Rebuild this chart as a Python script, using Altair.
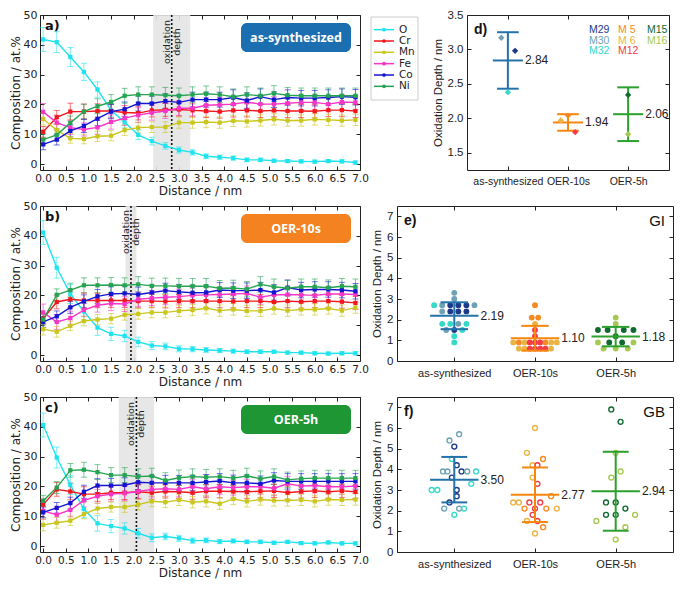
import altair as alt
import pandas as pd

# ---------------- composition profiles (panels a-c) ----------------
dist = [0.0, 0.3, 0.6, 0.9, 1.2, 1.5, 1.8, 2.1, 2.4, 2.7, 3.0, 3.3,
        3.6, 3.9, 4.2, 4.5, 4.8, 5.1, 5.4, 5.7, 6.0, 6.3, 6.6, 6.9]
elements = ["O", "Cr", "Mn", "Fe", "Co", "Ni"]
element_colors = ["#1fe3ee", "#f2171d", "#c9c71e", "#f735c6", "#1414d2", "#25a552"]

err_O = [4.0, 3.5, 3.2, 2.9, 2.6, 2.2, 1.9, 1.6, 1.3, 1.1, 1.0, 0.9,
         0.8, 0.7, 0.7, 0.6, 0.6, 0.5, 0.5, 0.5, 0.5, 0.5, 0.5, 0.5]
err_Cr = [1.8, 2.3, 2.8, 2.5, 2.4, 2.3, 2.3, 2.3, 2.2, 2.2, 2.2, 2.2,
          2.2, 2.2, 2.2, 2.2, 2.2, 2.2, 2.2, 2.2, 2.2, 2.2, 2.2, 2.2]
err_Mn = [2.0, 1.8, 1.6, 1.6, 1.7, 1.7, 1.8, 1.8, 1.8, 1.8, 1.9, 1.9,
          1.9, 1.9, 1.9, 1.9, 1.9, 1.9, 1.9, 1.9, 1.9, 1.9, 1.9, 1.9]
err_Fe = [2.8, 2.5, 2.3, 2.2, 2.3, 2.4, 2.5, 2.5, 2.5, 2.5, 2.5, 2.5,
          2.5, 2.5, 2.5, 2.5, 2.5, 2.5, 2.5, 2.5, 2.5, 2.5, 2.5, 2.5]
err_Co = [1.8, 1.8, 2.0, 2.2, 2.3, 2.4, 2.4, 2.5, 2.5, 2.5, 2.5, 2.5,
          2.5, 2.5, 2.6, 2.6, 2.6, 2.6, 2.6, 2.6, 2.6, 2.6, 2.6, 2.6]
err_Ni = [1.8, 2.0, 2.3, 2.5, 2.5, 2.5, 2.5, 2.6, 2.6, 2.6, 2.6, 2.6,
          2.6, 2.6, 2.6, 2.6, 2.6, 2.6, 2.6, 2.6, 2.6, 2.6, 2.6, 2.6]
errors = [err_O, err_Cr, err_Mn, err_Fe, err_Co, err_Ni]

a_O = [41.8, 40.9, 35.9, 30.9, 25.0, 18.0, 14.0, 9.8, 7.7, 6.1, 4.7, 3.9,
       2.6, 2.3, 2.0, 1.4, 1.4, 1.1, 1.0, 0.9, 0.8, 1.0, 0.9, 0.5]
a_Cr = [10.8, 15.7, 17.6, 17.6, 17.8, 17.8, 17.3, 17.1, 18.0, 18.2, 18.3, 18.0,
        17.8, 17.6, 18.0, 18.0, 17.8, 18.0, 17.8, 17.8, 17.7, 18.1, 18.1, 17.8]
a_Mn = [15.1, 11.4, 8.6, 8.4, 9.3, 9.5, 11.4, 12.2, 12.4, 12.4, 13.9, 13.9,
        14.1, 13.9, 14.5, 14.3, 14.6, 15.0, 14.6, 14.6, 15.0, 14.8, 14.6, 14.8]
a_Fe = [17.5, 13.9, 12.2, 11.6, 12.3, 14.1, 15.4, 16.4, 17.2, 17.8, 18.7, 18.7,
        19.7, 19.9, 20.1, 20.8, 20.1, 20.1, 20.4, 20.7, 20.7, 20.1, 20.8, 20.7]
a_Co = [6.6, 8.2, 11.1, 12.8, 15.2, 17.6, 18.4, 20.3, 20.3, 21.1, 20.7, 21.6,
        21.6, 21.6, 22.3, 21.3, 22.6, 21.6, 22.3, 22.1, 22.1, 22.3, 22.6, 22.4]
a_Ni = [8.2, 9.8, 13.8, 17.6, 19.4, 20.8, 22.9, 23.3, 23.3, 23.1, 22.9, 23.3,
        23.6, 23.3, 22.6, 23.3, 22.9, 23.7, 23.1, 22.9, 22.9, 22.9, 22.9, 22.9]

b_O = [41.1, 29.3, 20.5, 14.6, 9.2, 7.1, 6.4, 4.4, 3.2, 2.9, 2.1, 2.0,
       1.7, 1.5, 1.3, 1.1, 1.1, 1.1, 0.8, 0.8, 0.6, 0.5, 0.6, 0.6]
b_Cr = [12.2, 17.8, 18.7, 18.3, 18.3, 18.3, 18.3, 18.1, 18.1, 18.0, 18.1, 18.1,
        18.1, 18.1, 18.0, 18.1, 18.1, 17.8, 18.1, 17.9, 18.1, 18.1, 17.9, 17.5]
b_Mn = [8.7, 7.8, 9.8, 11.4, 11.9, 12.2, 13.5, 13.8, 14.3, 14.3, 14.8, 15.1,
        15.7, 14.9, 15.3, 14.8, 14.8, 15.6, 14.9, 15.3, 15.3, 15.6, 14.9, 15.9]
b_Fe = [14.3, 11.1, 12.4, 15.1, 16.7, 17.3, 17.1, 18.7, 19.1, 19.4, 19.6, 20.0,
        20.2, 20.3, 20.5, 20.7, 19.4, 20.2, 20.3, 20.2, 20.0, 20.5, 20.5, 20.3]
b_Co = [11.1, 13.0, 16.0, 18.0, 19.7, 20.5, 20.7, 20.3, 21.0, 21.6, 21.2, 20.9,
        21.0, 21.8, 21.6, 21.6, 21.8, 21.0, 22.6, 21.8, 22.0, 22.0, 21.8, 21.4]
b_Ni = [11.9, 20.2, 21.8, 23.4, 23.4, 23.5, 23.4, 23.7, 23.2, 23.2, 23.1, 23.1,
        23.1, 22.4, 22.5, 22.1, 23.7, 22.9, 22.4, 22.9, 22.9, 22.6, 23.1, 22.9]

c_O = [40.6, 29.7, 20.5, 12.4, 7.6, 6.7, 5.9, 4.3, 2.8, 3.2, 2.6, 1.8,
       1.9, 1.5, 1.7, 1.4, 1.4, 1.1, 1.4, 1.0, 0.9, 1.2, 0.9, 0.9]
c_Cr = [13.9, 19.0, 18.3, 17.4, 17.4, 17.9, 17.9, 18.2, 17.9, 18.3, 18.2, 17.9,
        18.4, 18.4, 18.3, 18.2, 18.4, 18.5, 17.9, 18.3, 18.5, 18.2, 18.5, 18.2]
c_Mn = [7.1, 7.8, 8.5, 10.7, 12.6, 13.1, 13.1, 13.9, 15.0, 14.7, 15.5, 14.7,
        15.0, 14.2, 15.8, 15.0, 15.6, 15.3, 15.3, 15.5, 15.0, 15.6, 15.5, 15.6]
c_Fe = [11.8, 10.5, 12.1, 15.3, 16.7, 17.4, 17.7, 18.3, 19.0, 19.2, 19.0, 19.9,
        19.2, 19.9, 19.6, 19.9, 19.9, 19.4, 20.9, 20.1, 20.3, 19.9, 19.9, 20.1]
c_Co = [11.3, 12.8, 14.4, 18.2, 20.3, 20.3, 20.5, 21.4, 21.2, 21.2, 21.2, 21.2,
        21.5, 21.8, 21.2, 21.2, 20.9, 22.0, 21.7, 21.7, 21.7, 21.7, 21.7, 21.7]
c_Ni = [15.2, 19.6, 25.4, 25.6, 24.8, 23.8, 23.8, 23.3, 23.5, 22.0, 22.9, 23.3,
        23.1, 23.3, 22.8, 23.5, 22.6, 23.3, 22.2, 22.6, 22.8, 22.8, 22.8, 22.8]

x_ticks = [0.0, 0.5, 1.0, 1.5, 2.0, 2.5, 3.0, 3.5, 4.0, 4.5, 5.0, 5.5, 6.0, 6.5, 7.0]
y_ticks_comp = [0, 10, 20, 30, 40, 50]

# ---------------- oxidation depth (panels d-f) ----------------
groups = ["as-synthesized", "OER-10s", "OER-5h"]
group_colors = ["#2472aa", "#f7860f", "#2ca02c"]
samples = ["M29", "M30", "M32", "M5", "M6", "M12", "M15", "M16"]
sample_labels = ["M29", "M30", "M32", "M  5", "M  6", "M12", "M15", "M16"]
sample_colors = ["#1d3a8a", "#6ea2b4", "#34d9c8", "#f58a24", "#eab445",
                 "#f23b47", "#0e6a30", "#a5c952"]

d_mean = [2.84, 1.94, 2.06]
d_sd = [0.41, 0.12, 0.39]
d_grp = [1, 1, 1, 2, 2, 2, 3, 3]
d_smp = ["M30", "M29", "M32", "M6", "M5", "M12", "M15", "M16"]
d_off = [-0.11, 0.12, 0.0, -0.12, 0.0, 0.12, 0.0, 0.0]
d_val = [3.17, 2.98, 2.38, 1.97, 2.04, 1.80, 2.34, 1.77]

e_mean = [2.19, 1.10, 1.18]
e_sd = [0.65, 0.60, 0.47]
e_grp = [1] * 21 + [2] * 22 + [3] * 14
e_smp = ["M30", "M30", "M32", "M30", "M29", "M29", "M29", "M30", "M30", "M29", "M29",
         "M29", "M32", "M32", "M30", "M32", "M30", "M29", "M32", "M32", "M32",
         "M5", "M5", "M5", "M6", "M12", "M12", "M6", "M5", "M6", "M12", "M12",
         "M12", "M5", "M6", "M6", "M6", "M6", "M12", "M12", "M12", "M12", "M6",
         "M16", "M16", "M15", "M15", "M15", "M15", "M15", "M16", "M15", "M15",
         "M16", "M16", "M16", "M16"]
e_off = [0, 0, -0.25, -0.15, -0.05, 0.05, 0.15, 0.25, -0.15, -0.05, 0.05, 0.15,
         -0.15, -0.05, 0.05, 0.15, -0.1, 0, 0.1, 0, 0,
         0, -0.04, 0.04, 0, 0, 0, -0.27, -0.2, -0.13, -0.065, 0, 0.065, 0.13, 0.2,
         0.27, -0.2, -0.13, -0.065, 0, 0.065, 0.13, 0.2,
         0, 0, -0.22, -0.1, 0.1, 0.22, 0, -0.22, -0.08, 0.08, 0.22, -0.15, 0, 0.15]
e_val = [3.3, 3.0, 2.7, 2.7, 2.7, 2.7, 2.7, 2.7, 2.4, 2.4, 2.4, 2.4,
         1.8, 1.8, 1.8, 1.8, 1.5, 1.5, 1.5, 1.2, 0.9,
         2.7, 2.1, 2.1, 1.8, 1.5, 1.2, 0.9, 0.9, 0.9, 0.9, 0.9, 0.9, 0.9, 0.9,
         0.9, 0.6, 0.6, 0.6, 0.6, 0.6, 0.6, 0.6,
         2.1, 1.8, 1.5, 1.5, 1.5, 1.5, 1.2, 0.9, 0.9, 0.9, 0.9, 0.6, 0.6, 0.6]

f_mean = [3.50, 2.77, 2.94]
f_sd = [1.10, 1.32, 1.91]
f_grp = [1] * 21 + [2] * 21 + [3] * 14
f_smp = ["M30", "M30", "M29", "M32", "M29", "M30", "M30", "M29", "M30", "M32", "M29",
         "M32", "M32", "M32", "M29", "M29", "M29", "M30", "M30", "M32", "M32",
         "M6", "M6", "M5", "M6", "M12", "M6", "M12", "M5", "M6", "M6", "M12", "M12",
         "M5", "M12", "M5", "M6", "M12", "M6", "M12", "M5", "M6",
         "M15", "M15", "M16", "M16", "M16", "M15", "M15", "M15", "M15", "M15", "M16",
         "M16", "M16", "M16"]
f_off = [0.06, -0.06, 0, -0.03, 0.03, -0.14, -0.085, 0.09, 0.16, 0.27, -0.03,
         0.21, -0.28, -0.21, 0.03, 0.03, -0.06, -0.125, 0.06, 0.12, 0,
         0, -0.1, 0.1, -0.03, 0.03, -0.03, 0.03, 0.2, -0.27, -0.2, -0.07, 0.065,
         -0.13, 0, 0.14, 0.27, -0.03, -0.1, 0.03, 0.1, 0,
         -0.055, 0.06, 0, 0.06, -0.055, -0.12, 0, 0.12, -0.12, 0, 0.24, -0.24, 0.12, 0]
f_val = [5.7, 5.4, 5.1, 4.5, 4.2, 3.9, 3.9, 3.9, 3.9, 3.9, 3.6,
         3.3, 3.0, 3.0, 3.0, 2.7, 2.4, 2.1, 2.1, 2.1, 1.8,
         6.0, 4.8, 4.5, 4.2, 4.2, 3.6, 3.3, 2.7, 2.4, 2.4, 2.4, 2.4,
         2.1, 2.1, 2.1, 2.1, 1.8, 1.5, 1.5, 1.2, 0.9,
         6.9, 6.3, 4.8, 3.9, 3.6, 2.4, 2.4, 2.1, 1.8, 1.8, 1.8, 1.5, 1.2, 0.6]

# ---------------- layout sizes ----------------
H = 155
W_L = 320
W_D = 202
W_EF = 276
INK = "#222222"
LFONT = "DejaVu Sans"
RFONT = "Liberation Sans"

# one colour scale shared by every panel (concatenated views share it)
color_all = alt.Scale(domain=elements + samples + groups,
                      range=element_colors + sample_colors + group_colors)


def comp_panel(vals, depth, sd, tag, box_text, box_color, text_y):
    rows = []
    for el, ys, es in zip(elements, vals, errors):
        for x, y, e in zip(dist, ys, es):
            rows.append({"x": x, "y": y, "lo": y - e, "hi": y + e, "el": el})
    df = pd.DataFrame(rows)
    xsc = alt.Scale(domain=[-0.07, 7.0], nice=False, zero=False)
    ysc = alt.Scale(domain=[-2, 50], nice=False, zero=False)
    xax = alt.Axis(values=x_ticks, format=".1f", title="Distance / nm", grid=True,
                   gridDash=[4, H - 8, 4, 1000], gridColor=INK, gridOpacity=1,
                   ticks=False, labelPadding=3, titlePadding=2, labelFont=LFONT,
                   titleFont=LFONT, labelFontSize=10.5, titleFontSize=12,
                   titleFontWeight="normal", labelColor=INK, titleColor=INK,
                   labelOverlap=False, labelFlush=False, domain=False)
    yax = alt.Axis(values=y_ticks_comp, title="Composition / at.%", grid=True,
                   gridDash=[4, W_L - 8, 4, 1000], gridColor=INK, gridOpacity=1,
                   ticks=False, labelPadding=3, titlePadding=1, labelFont=LFONT,
                   titleFont=LFONT, labelFontSize=11, titleFontSize=12,
                   titleFontWeight="normal", labelColor=INK, titleColor=INK,
                   labelFlush=False, domain=False)

    def X(f):
        return alt.X(f, type="quantitative", scale=xsc, axis=xax)

    def Y(f):
        return alt.Y(f, type="quantitative", scale=ysc, axis=yax)

    col = alt.Color("el:N", scale=color_all, legend=None)

    band = pd.DataFrame({"x": [depth - sd], "x2": [depth + sd], "d": [depth]})
    shade = alt.Chart(band).mark_rect(color="#e4e4e4", opacity=0.9).encode(
        x=X("x"), x2="x2", y=alt.value(0), y2=alt.value(H))
    dline = alt.Chart(band).mark_rule(color="#111111", strokeDash=[2, 2], strokeWidth=1.6).encode(
        x=X("d"))
    t1 = alt.Chart(band).mark_text(angle=270, align="center", baseline="bottom", font=LFONT,
                                   fontSize=9.5, color=INK, text="oxidation").encode(
        x=X("d"), y=alt.value(text_y))
    t2 = alt.Chart(band).mark_text(angle=270, align="center", baseline="top", font=LFONT,
                                   fontSize=9.5, color=INK, text="depth").encode(
        x=X("d"), y=alt.value(text_y))

    base = alt.Chart(df)
    ebar = base.mark_rule(strokeWidth=1, opacity=0.6).encode(
        x=X("x"), y=Y("lo"), y2="hi", color=col)
    cap_lo = base.mark_tick(orient="horizontal", size=6, thickness=1, opacity=0.6).encode(
        x=X("x"), y=Y("lo"), color=col)
    cap_hi = base.mark_tick(orient="horizontal", size=6, thickness=1, opacity=0.6).encode(
        x=X("x"), y=Y("hi"), color=col)
    line = base.mark_line(strokeWidth=1.4).encode(x=X("x"), y=Y("y"), color=col, detail="el:N")
    pts = base.mark_point(shape="square", filled=True, size=18, opacity=1).encode(
        x=X("x"), y=Y("y"), color=col)

    lab = pd.DataFrame({"t": [box_text], "tag": [tag]})
    box = alt.Chart(lab).mark_rect(color=box_color, cornerRadius=6).encode(
        x=alt.value(201), x2=alt.value(311), y=alt.value(8), y2=alt.value(37))
    box_t = alt.Chart(lab).mark_text(color="white", font="Open Sans", fontWeight="bold",
                                     fontSize=12.5).encode(
        x=alt.value(256), y=alt.value(22.5), text="t:N")
    tag_t = alt.Chart(lab).mark_text(font=LFONT, fontWeight="bold", fontSize=13, align="left",
                                     color="#111111").encode(
        x=alt.value(5), y=alt.value(11), text="tag:N")

    return alt.layer(shade, dline, t1, t2, ebar, cap_lo, cap_hi, line, pts, box, box_t,
                     tag_t).properties(width=W_L, height=H)


def depth_panel(grp, smp, off, val, means, sds, W, xdom, ydom, yvals, yfmt, tag,
                corner, kind, mean_hw, cap_hw, xfs, legend_block=False):
    pts_df = pd.DataFrame({"g": grp, "smp": smp, "off": off, "v": val})
    pts_df["xp"] = pts_df["g"] + pts_df["off"]
    st = pd.DataFrame({"g": [1, 2, 3], "grp": groups, "m": means, "s": sds})
    st["lo"] = st["m"] - st["s"]
    st["hi"] = st["m"] + st["s"]
    st["xm1"] = st["g"] - mean_hw
    st["xm2"] = st["g"] + mean_hw
    st["xc1"] = st["g"] - cap_hw
    st["xc2"] = st["g"] + cap_hw
    st["lab"] = [f"{m:.2f}" for m in means]

    xsc = alt.Scale(domain=xdom, nice=False, zero=False)
    ysc = alt.Scale(domain=ydom, nice=False, zero=False)
    xax = alt.Axis(values=[1, 2, 3],
                   labelExpr="datum.value == 1 ? 'as-synthesized' : datum.value == 2 ? 'OER-10s' : 'OER-5h'",
                   title=None, grid=True, gridDash=[4, H - 8, 4, 1000], gridColor=INK,
                   gridOpacity=1, ticks=False, labelPadding=6, labelFont=RFONT,
                   labelFontSize=xfs, labelColor=INK, labelOverlap=False, labelFlush=False,
                   domain=False)
    yax = alt.Axis(values=yvals, format=yfmt, title="Oxidation Depth / nm", grid=True,
                   gridDash=[4, W - 8, 4, 1000], gridColor=INK, gridOpacity=1, ticks=False,
                   labelPadding=4, titlePadding=4, labelFont=RFONT, titleFont=RFONT,
                   labelFontSize=11.5, titleFontSize=11.5, titleFontWeight="normal",
                   labelColor=INK, titleColor=INK, labelFlush=False, domain=False)

    def X(f):
        return alt.X(f, type="quantitative", scale=xsc, axis=xax)

    def Y(f):
        return alt.Y(f, type="quantitative", scale=ysc, axis=yax)

    pbase = alt.Chart(pts_df)
    if kind == "diamond":
        pm = pbase.mark_point(shape="diamond", filled=True, size=40, opacity=1)
    elif kind == "filled":
        pm = pbase.mark_circle(size=34, opacity=1)
    else:
        pm = pbase.mark_point(shape="circle", filled=False, size=24, strokeWidth=1.4, opacity=1)
    points = pm.encode(x=X("xp"), y=Y("v"),
                       color=alt.Color("smp:N", scale=color_all, legend=None))

    sb = alt.Chart(st)
    gcol = alt.Color("grp:N", scale=color_all, legend=None)
    vert = sb.mark_rule(strokeWidth=2).encode(x=X("g"), y=Y("lo"), y2="hi", color=gcol)
    meanl = sb.mark_rule(strokeWidth=2).encode(x=X("xm1"), x2="xm2", y=Y("m"), color=gcol)
    caplo = sb.mark_rule(strokeWidth=2).encode(x=X("xc1"), x2="xc2", y=Y("lo"), color=gcol)
    caphi = sb.mark_rule(strokeWidth=2).encode(x=X("xc1"), x2="xc2", y=Y("hi"), color=gcol)
    mtxt = sb.mark_text(align="left", dx=2, font=RFONT, fontSize=12, color=INK).encode(
        x=X("xm2"), y=Y("m"), text="lab:N")

    lab = pd.DataFrame({"tag": [tag], "corner": [corner]})
    tag_t = alt.Chart(lab).mark_text(font=RFONT, fontWeight="bold", fontSize=14, align="left",
                                     color="#111111").encode(
        x=alt.value(7), y=alt.value(15), text="tag:N")
    layers = []
    if kind == "diamond":
        layers += [vert, meanl, caplo, caphi, points, mtxt, tag_t]
    else:
        layers += [points, vert, meanl, caplo, caphi, mtxt, tag_t]
    if corner:
        layers.append(alt.Chart(lab).mark_text(font=RFONT, fontSize=15, align="right",
                                               color="#111111").encode(
            x=alt.value(W - 8), y=alt.value(15), text="corner:N"))
    if legend_block:
        for i, (sl, sc) in enumerate(zip(sample_labels, sample_colors)):
            c, r = divmod(i, 3)
            layers.append(alt.Chart(lab).mark_text(font=RFONT, fontSize=10.5, align="left",
                                                   color=sc, text=sl).encode(
                x=alt.value(122 + 29 * c), y=alt.value(15 + 10.5 * r)))
    return alt.layer(*layers).properties(width=W, height=H)


# ---------------- element legend ----------------
leg_df = pd.DataFrame({"el": elements})
leg_y = alt.Y("el:N", scale=alt.Scale(domain=elements, range=[9, 77], padding=0), axis=None)
leg_col = alt.Color("el:N", scale=color_all, legend=None)
leg_box = alt.Chart(pd.DataFrame({"k": [0]})).mark_rect(
    fill="white", stroke="#cccccc", strokeWidth=1).encode(
    x=alt.value(0), x2=alt.value(47), y=alt.value(2), y2=alt.value(85))
leg_line = alt.Chart(leg_df).mark_rule(strokeWidth=1.5).encode(
    x=alt.value(3), x2=alt.value(23), y=leg_y, color=leg_col)
leg_pt = alt.Chart(leg_df).mark_circle(size=14, opacity=1).encode(
    x=alt.value(13), y=leg_y, color=leg_col)
leg_txt = alt.Chart(leg_df).mark_text(align="left", font=LFONT, fontSize=10.5, color=INK).encode(
    x=alt.value(28), y=leg_y, text="el:N")
legend = alt.layer(leg_box, leg_line, leg_pt, leg_txt).properties(
    width=58, height=H, view=alt.ViewBackground(stroke="transparent"))

pa = comp_panel([a_O, a_Cr, a_Mn, a_Fe, a_Co, a_Ni], d_mean[0], d_sd[0], "a)",
                "as-synthesized", "#1b6fb0", 27)
pb = comp_panel([b_O, b_Cr, b_Mn, b_Fe, b_Co, b_Ni], d_mean[1], d_sd[1], "b)",
                "OER-10s", "#f58220", 26)
pc = comp_panel([c_O, c_Cr, c_Mn, c_Fe, c_Co, c_Ni], d_mean[2], d_sd[2], "c)",
                "OER-5h", "#1e9633", 27)

pd_ = depth_panel(d_grp, d_smp, d_off, d_val, d_mean, d_sd, W_D, [0.32, 3.68], [1.25, 3.5],
                  [1.5, 2.0, 2.5, 3.0, 3.5], ".1f", "d)", "", "diamond", 0.25, 0.18, 10.5,
                  legend_block=True)
pe = depth_panel(e_grp, e_smp, e_off, e_val, e_mean, e_sd, W_EF, [0.29, 3.71], [0, 7.5],
                 [0, 1, 2, 3, 4, 5, 6, 7], "d", "e)", "GI", "filled", 0.3, 0.17, 11)
pf = depth_panel(f_grp, f_smp, f_off, f_val, f_mean, f_sd, W_EF, [0.29, 3.71], [0, 7.5],
                 [0, 1, 2, 3, 4, 5, 6, 7], "d", "f)", "GB", "open", 0.3, 0.16, 11)

row1 = alt.hconcat(pa, legend, pd_, spacing=1)
row2 = alt.hconcat(pb, pe, spacing=2)
row3 = alt.hconcat(pc, pf, spacing=2)

chart = alt.vconcat(row1, row2, row3, spacing=2).properties(padding=0).configure_view(
    stroke=INK, strokeWidth=1)

chart.save("out.html", embed_options={"renderer": "svg", "actions": False})
